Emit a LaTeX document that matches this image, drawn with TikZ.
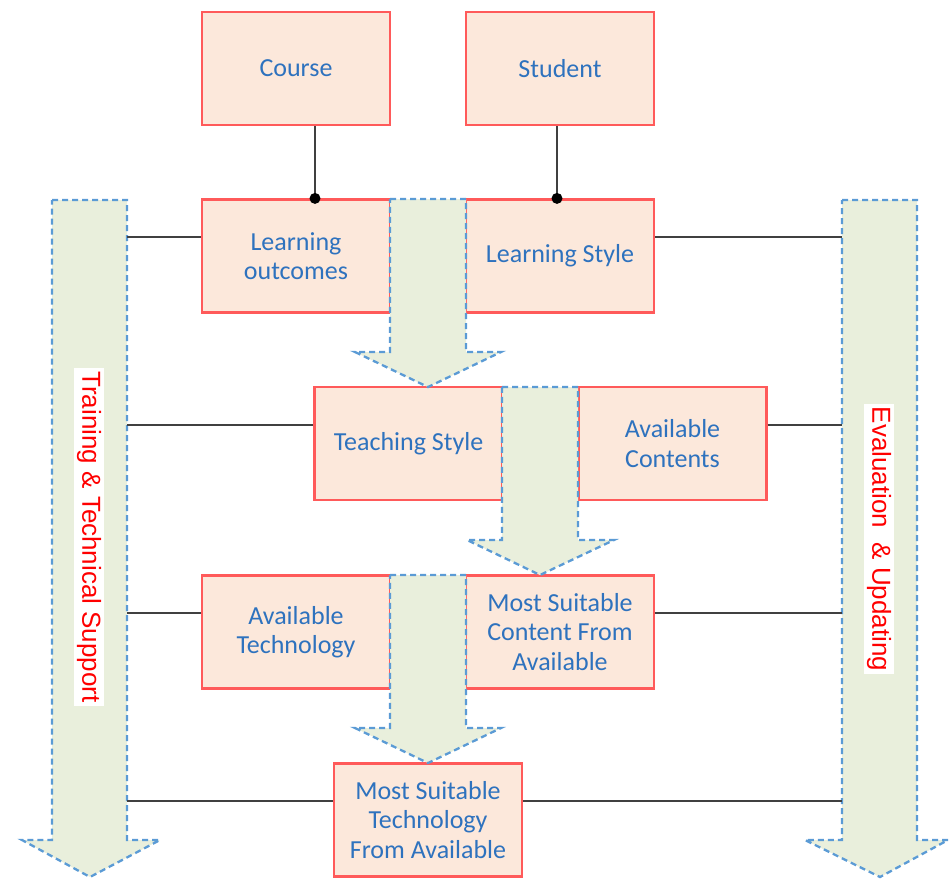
\documentclass[tikz,border=0pt]{standalone}
\usepackage{fontspec}
\newfontfamily\boxfont{Carlito}
\newfontfamily\sidefont{Liberation Sans}
\definecolor{boxfill}{HTML}{FCE8DB}
\definecolor{boxline}{HTML}{FF5A5A}
\definecolor{boxtext}{HTML}{2E72BE}
\definecolor{arrfill}{HTML}{E9EFDC}
\definecolor{arrline}{HTML}{5B9BD5}
\definecolor{linkcol}{HTML}{404040}
\tikzset{
  stagebox/.style={draw=boxline, line width=2.2pt, fill=boxfill,
    minimum width=188pt, minimum height=113pt, inner sep=2pt,
    align=center, text=boxtext,
    font=\boxfont\fontsize{26pt}{29.5pt}\selectfont},
  flowarrow/.style={draw=arrline, fill=arrfill, line width=2.3pt,
    dash pattern=on 6pt off 4pt, line join=miter},
  link/.style={draw=linkcol, line width=2pt},
  sidelabel/.style={rotate=-90, fill=white, text=red, inner sep=3pt,
    font=\sidefont\fontsize{26pt}{30pt}\selectfont},
}
% down arrow: shaft left, shaft right, top, neck, wing left, wing right, tip x, tip y
\newcommand\downarrowshape[8]{%
  \path[flowarrow] (#1,#3) -- (#2,#3) -- (#2,#4) -- (#6,#4) -- (#7,#8)
    -- (#5,#4) -- (#1,#4) -- cycle;}
\begin{document}
\begin{tikzpicture}[x=1pt, y=-1pt]
\useasboundingbox (0,0) rectangle (950,879);

% side arrows
\downarrowshape{52}{127}{200}{840}{22}{160}{90}{877}
\downarrowshape{842}{917}{200}{840}{805}{948}{880}{877}
\coordinate (Ledge) at (127,0);
\coordinate (Redge) at (842,0);

% stage boxes
\node[stagebox] (course)    at (296,68.5)  {Course};
\node[stagebox] (student)   at (560,68.5)  {Student};
\node[stagebox] (outcomes)  at (296,256)   {Learning\\outcomes};
\node[stagebox] (lstyle)    at (560,256)   {Learning Style};
\node[stagebox] (tstyle)    at (408.5,443.5) {Teaching Style};
\node[stagebox] (contents)  at (672.5,443.5) {Available\\Contents};
\node[stagebox] (tech)      at (296,632)   {Available\\Technology};
\node[stagebox] (mscontent) at (560,632)   {Most Suitable\\Content From\\Available};
\node[stagebox] (mstech)    at (428,820)   {Most Suitable\\Technology\\From Available};

% flow arrows between stages
\downarrowshape{390}{466}{199}{352}{355}{501}{428}{387}
\downarrowshape{502}{578}{387}{540}{467}{614}{540}{575}
\downarrowshape{390}{466}{575}{728}{355}{501}{428}{763}

% links from the source boxes
\coordinate (c1) at (315,0);
\coordinate (c2) at (557,0);
\draw[link] (course.south -| c1) -- (outcomes.north -| c1);
\fill[black] (outcomes.north -| c1) circle (5.5pt);
\draw[link] (student.south -| c2) -- (lstyle.north -| c2);
\fill[black] (lstyle.north -| c2) circle (5.5pt);

% rows joined to the side arrows
\coordinate (r1) at (0,237);
\coordinate (r2) at (0,425);
\coordinate (r3) at (0,613);
\coordinate (r4) at (0,801);
\draw[link] (Ledge |- r1) -- (outcomes.west |- r1);
\draw[link] (lstyle.east |- r1) -- (Redge |- r1);
\draw[link] (Ledge |- r2) -- (tstyle.west |- r2);
\draw[link] (contents.east |- r2) -- (Redge |- r2);
\draw[link] (Ledge |- r3) -- (tech.west |- r3);
\draw[link] (mscontent.east |- r3) -- (Redge |- r3);
\draw[link] (Ledge |- r4) -- (mstech.west |- r4);
\draw[link] (mstech.east |- r4) -- (Redge |- r4);

% side labels
\node[sidelabel] (train) at (89,537) {Training \& Technical Support};
\node[sidelabel] (evalu) at (879,539) {Evaluation\ \ \& Updating};
\end{tikzpicture}
\end{document}
